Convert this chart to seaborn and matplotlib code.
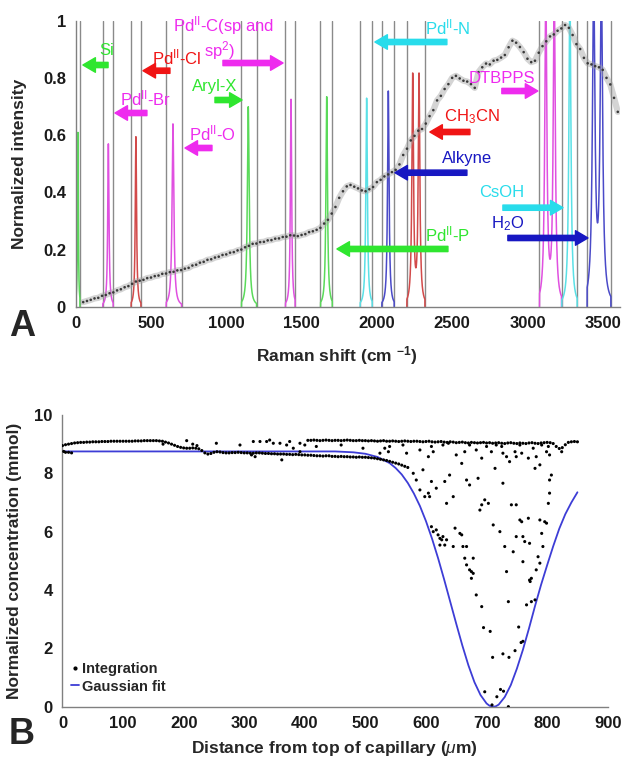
import numpy as np
import pandas as pd
import matplotlib
matplotlib.use("Agg")
import matplotlib.pyplot as plt
from matplotlib.lines import Line2D
import seaborn as sns

sns.set_theme(style="white")
plt.rcParams['font.family'] = ['Liberation Sans', 'DejaVu Sans']
plt.rcParams['mathtext.fontset'] = 'custom'
plt.rcParams['mathtext.rm'] = 'Liberation Sans'
plt.rcParams['mathtext.it'] = 'Liberation Sans:italic'
plt.rcParams['mathtext.bf'] = 'Liberation Sans:bold'

# ---------------- Panel A data ----------------
spec_x = np.arange(50, 3601, 25)
spec_y = [0.016, 0.020, 0.024, 0.029, 0.031, 0.038, 0.041, 0.047, 0.050, 0.057,
          0.061, 0.068, 0.072, 0.080, 0.088, 0.091, 0.094, 0.100, 0.102, 0.107,
          0.109, 0.115, 0.116, 0.121, 0.122, 0.127, 0.128, 0.133, 0.136, 0.144,
          0.147, 0.154, 0.157, 0.164, 0.166, 0.172, 0.175, 0.181, 0.183, 0.189,
          0.191, 0.197, 0.200, 0.208, 0.213, 0.220, 0.221, 0.226, 0.227, 0.232,
          0.233, 0.238, 0.239, 0.244, 0.245, 0.250, 0.249, 0.247, 0.251, 0.254,
          0.261, 0.264, 0.269, 0.276, 0.291, 0.304, 0.326, 0.349, 0.381, 0.404,
          0.421, 0.426, 0.420, 0.414, 0.407, 0.404, 0.411, 0.419, 0.436, 0.444,
          0.456, 0.463, 0.471, 0.479, 0.498, 0.531, 0.553, 0.582, 0.598, 0.616,
          0.622, 0.641, 0.667, 0.688, 0.722, 0.738, 0.762, 0.779, 0.801, 0.808,
          0.799, 0.791, 0.788, 0.779, 0.766, 0.821, 0.838, 0.851, 0.848, 0.861,
          0.864, 0.872, 0.881, 0.908, 0.931, 0.924, 0.909, 0.891, 0.868, 0.856,
          0.861, 0.889, 0.912, 0.929, 0.946, 0.953, 0.966, 0.974, 0.986, 0.976,
          0.951, 0.919, 0.902, 0.871, 0.852, 0.848, 0.842, 0.838, 0.829, 0.801,
          0.778, 0.731, 0.682]

# reference bands: colour group, bracket edges (grey lines), peak centres/heights, width
band_group = ['green', 'magenta', 'red', 'magenta', 'green', 'magenta', 'green',
              'cyan', 'blue', 'red', 'magenta', 'cyan', 'blue']
band_lo = [0, 179, 367, 600, 1100, 1392, 1625, 1888, 2032, 2198, 3079, 3227, 3395]
band_hi = [29, 250, 434, 704, 1202, 1458, 1705, 1970, 2116, 2320, 3227, 3331, 3555]
band_centers = [[15], [217], [400], [646], [1146], [1430], [1667], [1932], [2076],
                [2238, 2280], [3122, 3178], [3282], [3440, 3491]]
band_heights = [[0.61], [0.57], [0.595], [0.64], [0.70], [0.726], [0.735], [0.73],
                [0.755], [0.80, 0.80], [1.1, 1.1], [1.1], [1.1, 1.1]]
band_gamma = [3, 5, 5, 7, 7, 5, 6, 6, 6, 6.4, 8, 8, 10]

peak_palette = {'green': '#5ada5a', 'magenta': '#e050e0', 'red': '#d24a4a',
                'cyan': '#5ae0e6', 'blue': '#4a4ac8'}
text_colors = {'green': '#2fe62f', 'magenta': '#ee2bee', 'red': '#f01414',
               'cyan': '#28dceb', 'blue': '#1717c2'}

# label, color key, text (x, y), arrow x-start, x-end, arrow y
labels = [
    ('Si', 'green', 208, 0.898, 215, 48, 0.846),
    ('Pd$^{\\mathrm{II}}$-Cl', 'red', 668, 0.874, 626, 447, 0.826),
    ('Pd$^{\\mathrm{II}}$-C(sp and', 'magenta', 985, 0.984, 978, 1377, 0.853),
    ('Aryl-X', 'green', 926, 0.769, 925, 1105, 0.7235),
    ('Pd$^{\\mathrm{II}}$-Br', 'magenta', 467, 0.73, 473, 261, 0.678),
    ('Pd$^{\\mathrm{II}}$-O', 'magenta', 906, 0.608, 905, 726, 0.5555),
    ('Pd$^{\\mathrm{II}}$-N', 'cyan', 2472, 0.979, 2465, 1987, 0.9265),
    ('DTBPPS', 'magenta', 2830, 0.80, 2830, 3069, 0.755),
    ('CH$_3$CN', 'red', 2631, 0.664, 2618, 2352, 0.6115),
    ('Alkyne', 'blue', 2598, 0.52, 2598, 2120, 0.469),
    ('CsOH', 'cyan', 2830, 0.398, 2837, 3236, 0.3465),
    ('H$_2$O', 'blue', 2870, 0.289, 2870, 3402, 0.2405),
    ('Pd$^{\\mathrm{II}}$-P', 'green', 2472, 0.254, 2472, 1735, 0.202),
]

# ---------------- Panel B data ----------------
band1_x = np.arange(0, 571, 5)
band1_y = [8.95, 8.98, 9.00, 9.02, 9.04, 9.05, 9.06, 9.06, 9.07, 9.07,
           9.08, 9.08, 9.08, 9.09, 9.09, 9.09, 9.10, 9.10, 9.10, 9.10,
           9.10, 9.10, 9.10, 9.10, 9.11, 9.11, 9.11, 9.12, 9.12, 9.12,
           9.12, 9.12, 9.11, 9.10, 9.07, 9.04, 9.00, 8.96, 8.92, 8.89,
           8.87, 8.86, 8.86, 8.87, 8.86, 8.84, 8.78, 8.70, 8.66, 8.68,
           8.72, 8.74, 8.73, 8.71, 8.70, 8.70, 8.71, 8.71, 8.72, 8.71,
           8.70, 8.70, 8.69, 8.69, 8.70, 8.70, 8.69, 8.68, 8.68, 8.67,
           8.67, 8.66, 8.66, 8.66, 8.65, 8.65, 8.64, 8.65, 8.64, 8.63,
           8.63, 8.62, 8.62, 8.61, 8.60, 8.60, 8.59, 8.60, 8.60, 8.58,
           8.58, 8.57, 8.58, 8.57, 8.57, 8.56, 8.56, 8.55, 8.56, 8.55,
           8.55, 8.54, 8.53, 8.52, 8.50, 8.48, 8.46, 8.44, 8.41, 8.38,
           8.35, 8.32, 8.28, 8.24, 8.20]

band2_x = np.arange(405, 851, 5)
band2_y = [9.13, 9.13, 9.14, 9.13, 9.12, 9.13, 9.14, 9.13, 9.12, 9.13,
           9.13, 9.12, 9.13, 9.14, 9.13, 9.12, 9.12, 9.13, 9.12, 9.12,
           9.11, 9.12, 9.11, 9.10, 9.11, 9.12, 9.10, 9.10, 9.11, 9.10,
           9.09, 9.10, 9.11, 9.10, 9.09, 9.10, 9.10, 9.09, 9.08, 9.09,
           9.10, 9.08, 9.07, 9.08, 9.09, 9.07, 9.06, 9.08, 9.07, 9.05,
           9.06, 9.07, 9.05, 9.04, 9.06, 9.05, 9.04, 9.05, 9.06, 9.04,
           9.05, 9.03, 9.04, 9.05, 9.03, 9.02, 9.04, 9.05, 9.03, 9.02,
           9.04, 9.03, 9.02, 9.04, 9.05, 9.03, 9.02, 9.04, 9.05, 9.06,
           9.05, 9.02, 8.92, 8.85, 8.88, 8.98, 9.06, 9.08, 9.09, 9.08]

scatter_pts = [
    (2, 8.75), (5, 8.72), (10, 8.72), (15, 8.70), (166, 9.0), (205, 9.12), (215, 9.0),
    (222, 8.95), (254, 9.03), (293, 8.97), (312, 8.63), (315, 9.09), (318, 8.57),
    (326, 9.09), (337, 9.09), (342, 9.14), (348, 9.03), (359, 9.03), (362, 8.46),
    (370, 8.97), (375, 9.09), (381, 8.86), (392, 9.03), (392, 8.74), (400, 8.97),
    (419, 8.92),
    (460, 8.97), (496, 8.86), (524, 8.69), (532, 8.86), (538, 8.74), (540, 8.92),
    (562, 8.97), (568, 8.69), (590, 8.80), (604, 8.57), (609, 8.92), (612, 8.74),
    (628, 8.97), (637, 9.03), (650, 8.63), (659, 8.34), (664, 8.74), (672, 8.97),
    (683, 8.80), (692, 8.52), (700, 8.92), (708, 8.74), (714, 8.17), (716, 8.97),
    (725, 8.92), (727, 8.69), (733, 8.57), (738, 8.40), (747, 8.74), (749, 8.57),
    (755, 8.97), (758, 8.69), (769, 8.52), (777, 8.86), (780, 8.17), (782, 8.57),
    (788, 8.29), (791, 8.97), (799, 8.74), (802, 8.92), (804, 8.63), (824, 8.74),
    (579, 8.0), (584, 7.77), (595, 8.12), (590, 7.43), (598, 7.2), (604, 7.32),
    (606, 7.2), (609, 7.72), (617, 7.49), (631, 7.72), (634, 6.97), (639, 7.94),
    (645, 7.2), (667, 7.77), (672, 7.6), (686, 7.83), (689, 6.74), (692, 6.92),
    (697, 7.09), (703, 6.97), (711, 6.23), (722, 6.0), (727, 7.66), (741, 6.92),
    (749, 6.92), (755, 6.4), (758, 6.34), (760, 5.83), (769, 6.46), (771, 5.6),
    (609, 6.17), (612, 6.0), (617, 6.06), (620, 5.89), (623, 5.77), (626, 5.72),
    (628, 5.83), (634, 5.72), (623, 5.54), (631, 5.54), (645, 5.49), (648, 6.12),
    (656, 5.94), (659, 5.89), (661, 5.49), (667, 5.49), (664, 5.09), (678, 5.09),
    (667, 4.86), (672, 4.69), (675, 4.63), (678, 4.57), (675, 4.4), (683, 3.83),
    (692, 3.43),
    (730, 5.49), (744, 5.31), (733, 4.63), (749, 5.83), (760, 4.97), (763, 5.66),
    (788, 6.4), (791, 5.94), (793, 5.49), (796, 6.34), (799, 6.29), (802, 6.97),
    (804, 7.32), (804, 7.77), (807, 7.94), (785, 5.14), (788, 4.92), (782, 4.69),
    (771, 4.34), (772, 4.29), (774, 4.4), (736, 3.6), (766, 3.49), (774, 3.6),
    (780, 3.66),
    (695, 2.71), (706, 2.58), (753, 2.73), (757, 2.2), (760, 2.24), (747, 1.92),
    (727, 1.81), (710, 1.69), (737, 1.69), (697, 0.51), (723, 0.59), (728, 0.53),
    (717, 0.34), (709, 0.06), (736, 0.0),
]

fit_x = [0, 100, 200, 300, 400, 450, 460, 480, 500, 520, 540, 550, 560, 570, 580,
         590, 600, 610, 620, 630, 640, 650, 660, 670, 680, 690, 700, 705, 711, 715,
         720, 730, 740, 750, 760, 770, 780, 790, 800, 810, 820, 830, 840, 850]
fit_y = [8.75, 8.75, 8.75, 8.75, 8.75, 8.75, 8.74, 8.72, 8.67, 8.56, 8.35, 8.18,
         7.96, 7.67, 7.31, 6.88, 6.36, 5.76, 5.09, 4.36, 3.60, 2.84, 2.10, 1.42,
         0.84, 0.40, 0.11, 0.03, 0.0, 0.01, 0.07, 0.33, 0.74, 1.30, 1.95, 2.68,
         3.45, 4.18, 4.85, 5.50, 6.10, 6.60, 7.00, 7.35]

# ---------------- Figure ----------------
fig = plt.figure(figsize=(6.26, 7.61), dpi=100)
ax1 = fig.add_axes([0.1209, 0.5970, 0.8696, 0.3754])
ax2 = fig.add_axes([0.0998, 0.0714, 0.8710, 0.3833])

AXC = '#808080'
for ax in (ax1, ax2):
    for s in ('top', 'right'):
        ax.spines[s].set_visible(False)
    for s in ('left', 'bottom'):
        ax.spines[s].set_color(AXC)
        ax.spines[s].set_linewidth(1.0)
    ax.tick_params(axis='both', which='major', direction='out', length=4,
                   width=1, color=AXC, labelsize=12, labelcolor='#1a1a1a', pad=3)

# Panel A
grey_lines = sorted(set([v for v in band_lo + band_hi if v > 0]))
for g in grey_lines:
    ax1.axvline(g, color='#8a8a8a', lw=1.0, zorder=1)

rows = []
for i, (grp, lo, hi, cs, hs, gm) in enumerate(zip(band_group, band_lo, band_hi,
                                                  band_centers, band_heights, band_gamma)):
    xs = np.linspace(lo + 1, hi - 1, 600)
    ys = np.zeros_like(xs)
    for c, h in zip(cs, hs):
        ys = ys + h / (1.0 + ((xs - c) / gm) ** 2)
    xs = np.concatenate([[lo + 1], xs, [hi - 1]])
    ys = np.concatenate([[0.0], ys, [0.0]])
    rows.append(pd.DataFrame({'x': xs, 'y': ys, 'band': i, 'grp': grp}))
peaks_df = pd.concat(rows, ignore_index=True)
sns.lineplot(data=peaks_df, x='x', y='y', hue='grp', units='band', estimator=None,
             palette=peak_palette, lw=1.1, legend=False, ax=ax1, zorder=2, sort=False)

spec_df = pd.DataFrame({'x': spec_x, 'y': spec_y})
sns.lineplot(data=spec_df, x='x', y='y', color='#a0a0a0', lw=4.5, alpha=0.45, ax=ax1, zorder=3)
sns.scatterplot(data=spec_df, x='x', y='y', color='#3a3a3a', s=3.5, edgecolor='none',
                ax=ax1, zorder=4)

for txt, key, tx, ty, a0, a1, ay in labels:
    ax1.text(tx, ty, txt, color=text_colors[key], fontsize=12, ha='center', va='center',
             zorder=6)
    ax1.annotate('', xy=(a1, ay), xytext=(a0, ay),
                 arrowprops=dict(arrowstyle='simple,head_length=0.9,head_width=1.05,tail_width=0.38',
                                 color=text_colors[key], shrinkA=0, shrinkB=0,
                                 mutation_scale=10), zorder=6)
ax1.text(955, 0.898, 'sp$^{2}$)', color=text_colors['magenta'], fontsize=12,
         ha='center', va='center', zorder=6)

ax1.set_xlim(0, 3615)
ax1.set_ylim(0, 1)
ax1.set_xticks(range(0, 3501, 500))
ax1.set_yticks([0, 0.2, 0.4, 0.6, 0.8, 1.0])
ax1.set_yticklabels(['0', '0.2', '0.4', '0.6', '0.8', '1'])
ax1.set_xlabel('Raman shift (cm $^{\\mathbf{-1}}$)', fontsize=12.5, fontweight='bold')
ax1.set_ylabel('Normalized intensity', fontsize=12.5, fontweight='bold')
ax1.xaxis.set_label_coords(0.48, -0.13)
ax1.yaxis.set_label_coords(-0.09, 0.5)

# Panel B
int_x = list(band1_x) + list(band2_x) + [p[0] for p in scatter_pts]
int_y = list(band1_y) + list(band2_y) + [p[1] for p in scatter_pts]
int_df = pd.DataFrame({'x': int_x, 'y': int_y})
fit_df = pd.DataFrame({'x': fit_x, 'y': fit_y})
BLUE = '#3d3dd6'
sns.lineplot(data=fit_df, x='x', y='y', color=BLUE, lw=1.3, ax=ax2, zorder=2,
             label='Gaussian fit')
sns.scatterplot(data=int_df, x='x', y='y', color='black', s=5, edgecolor='none',
                ax=ax2, zorder=3, label='Integration')

ax2.set_xlim(0, 900)
ax2.set_ylim(0, 10)
ax2.set_xticks(range(0, 901, 100))
ax2.set_yticks(range(0, 11, 2))
ax2.set_xlabel('Distance from top of capillary ($\\mu$m)', fontsize=12.5, fontweight='bold')
ax2.set_ylabel('Normalized concentration (mmol)', fontsize=12.5, fontweight='bold')
ax2.xaxis.set_label_coords(0.498, -0.11)
ax2.yaxis.set_label_coords(-0.074, 0.5)

handles = [Line2D([], [], marker='o', ls='', ms=2, color='black'),
           Line2D([], [], color=BLUE, lw=1.3)]
leg = ax2.legend(handles, ['Integration', 'Gaussian fit'], loc='lower left',
                 bbox_to_anchor=(0.0, 0.015), frameon=False, handlelength=0.5,
                 handletextpad=0.25, labelspacing=0.25, borderaxespad=0.2,
                 prop={'size': 10.5, 'weight': 'bold'})

for ax in (ax1, ax2):
    for lbl in ax.get_xticklabels() + ax.get_yticklabels():
        lbl.set_fontweight('bold')

fig.text(22 / 626, 1 - 326 / 761, 'A', fontsize=26, fontweight='bold', ha='center', va='center')
fig.text(22 / 626, 1 - 735 / 761, 'B', fontsize=26, fontweight='bold', ha='center', va='center')

fig.savefig('out.png', dpi=100)
